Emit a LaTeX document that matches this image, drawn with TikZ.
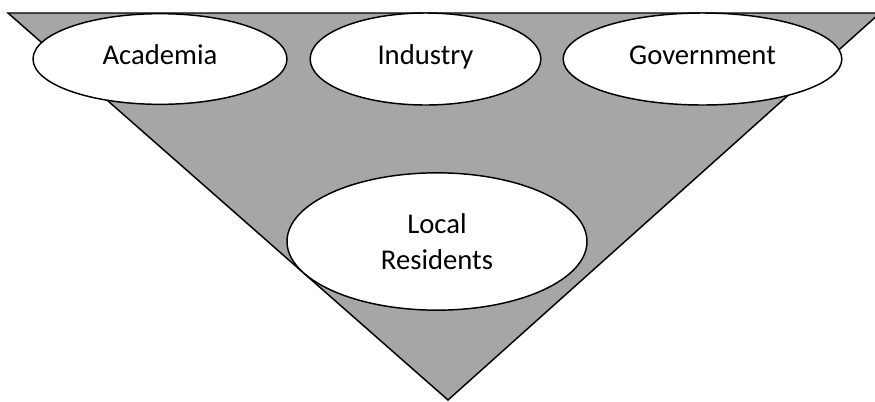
\documentclass[tikz,border=0pt]{standalone}
\usepackage{fontspec}
\setmainfont{Carlito}
\usetikzlibrary{shapes.geometric}

\definecolor{wedgegray}{RGB}{166,166,166}
\tikzset{
  stake/.style={ellipse, draw, line width=1.1pt, fill=white, inner sep=0pt, font=\fontsize{21.5}{26.5}\selectfont, align=center},
  oneline/.style={text height=12pt, text depth=4.5pt},
}

\begin{document}
\begin{tikzpicture}[x=0.75pt,y=0.75pt,yscale=-1,xscale=1]
\useasboundingbox (0,0) rectangle (875,401);

%Shape: Triangle [id:wedge]
\coordinate (tl) at (8,13);
\coordinate (tr) at (880,13);
\coordinate (apex) at (448,400);
\draw [line width=1.1pt, fill=wedgegray, line join=miter] (tl) -- (tr) -- (apex) -- cycle ;

% Ellipse Nodes
\node (academia) [stake, oneline, minimum width=190.5pt, minimum height=68pt] at (160,59) {Academia};
\node (industry) [stake, oneline, minimum width=173pt, minimum height=69pt] at (425.5,59) {Industry};
\node (government) [stake, oneline, minimum width=209pt, minimum height=69pt] at (702.5,59) {Government};
\node (residents) [stake, minimum width=225pt, minimum height=103pt] at (437,241.5) {Local\\Residents};

\end{tikzpicture}
\end{document}
